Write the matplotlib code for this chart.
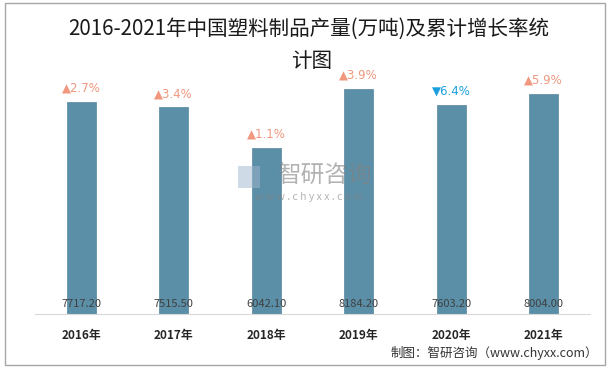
import matplotlib.pyplot as plt
from matplotlib.patches import Rectangle

plt.rcParams['font.family'] = ['Noto Sans CJK SC', 'DejaVu Sans']

years = ['2016年', '2017年', '2018年', '2019年', '2020年', '2021年']
output = [7717.20, 7515.50, 6042.10, 8184.20, 7603.20, 8004.00]
growth = [2.7, 3.4, 1.1, 3.9, -6.4, 5.9]

bar_color = '#5B8FA8'
up_color = '#F0977E'
down_color = '#1A9FDC'


def main():
    fig = plt.figure(figsize=(6.16, 3.68), dpi=100)
    ax = fig.add_axes([35 / 616, 1 - 314 / 368, 555 / 616, 250 / 368])

    x = range(len(years))
    ax.bar(x, output, width=0.31, color=bar_color, edgecolor='#55879F',
           linewidth=0.5, zorder=2)
    ax.set_xlim(-0.5, len(years) - 0.5)
    ax.set_ylim(0, 9090)

    for i, (v, g) in enumerate(zip(output, growth)):
        ax.text(i, 180, f'{v:.2f}', ha='center', va='bottom', fontsize=8,
                color='#404040', zorder=3)
        mark = '▲' if g >= 0 else '▼'
        col = up_color if g >= 0 else down_color
        ax.annotate(f'{mark}{abs(g):.1f}%', (i, v), xytext=(0, 5),
                    textcoords='offset points', ha='center', va='bottom',
                    fontsize=8.5, color=col, family=['DejaVu Sans'])

    for s in ['top', 'right', 'left']:
        ax.spines[s].set_visible(False)
    ax.spines['bottom'].set_color('#D9D9D9')
    ax.set_yticks([])
    ax.set_xticks(list(x))
    ax.set_xticklabels(years, fontsize=8.5, fontweight='bold', color='#262626')
    ax.tick_params(axis='x', length=0, pad=11)

    fig.text(0.501, 1 - 29 / 368, '2016-2021年中国塑料制品产量(万吨)及累计增长率统',
             ha='center', va='center', fontsize=14.8, color='#1a1a1a')
    fig.text(0.505, 1 - 61 / 368, '计图', ha='center', va='center',
             fontsize=14.8, color='#1a1a1a')

    # watermark
    fig.text(324 / 616, 1 - 176 / 368, '智研咨询', ha='center', va='center',
             fontsize=17, color='#808080', alpha=0.6, zorder=5)
    fig.text(309 / 616, 1 - 197 / 368, 'w w w . c h y x x . c o m', ha='center',
             va='center', fontsize=7.5, color='#808080', alpha=0.6, zorder=5)
    fig.patches.append(Rectangle((238 / 616, 1 - 188 / 368), 22 / 616, 22 / 368,
                                 transform=fig.transFigure, facecolor='#9FB6CC',
                                 alpha=0.5, edgecolor='none', zorder=5))

    fig.text(598 / 616, 1 - 353 / 368, '制图：智研咨询（www.chyxx.com）',
             ha='right', va='center', fontsize=9, color='#333333')

    fig.patches.append(Rectangle((5 / 616, 3 / 368), 600 / 616, 362 / 368,
                                 transform=fig.transFigure, fill=False,
                                 edgecolor='#A6A6A6', linewidth=1))

    fig.savefig('out.png', dpi=100)


if __name__ == '__main__':
    main()
